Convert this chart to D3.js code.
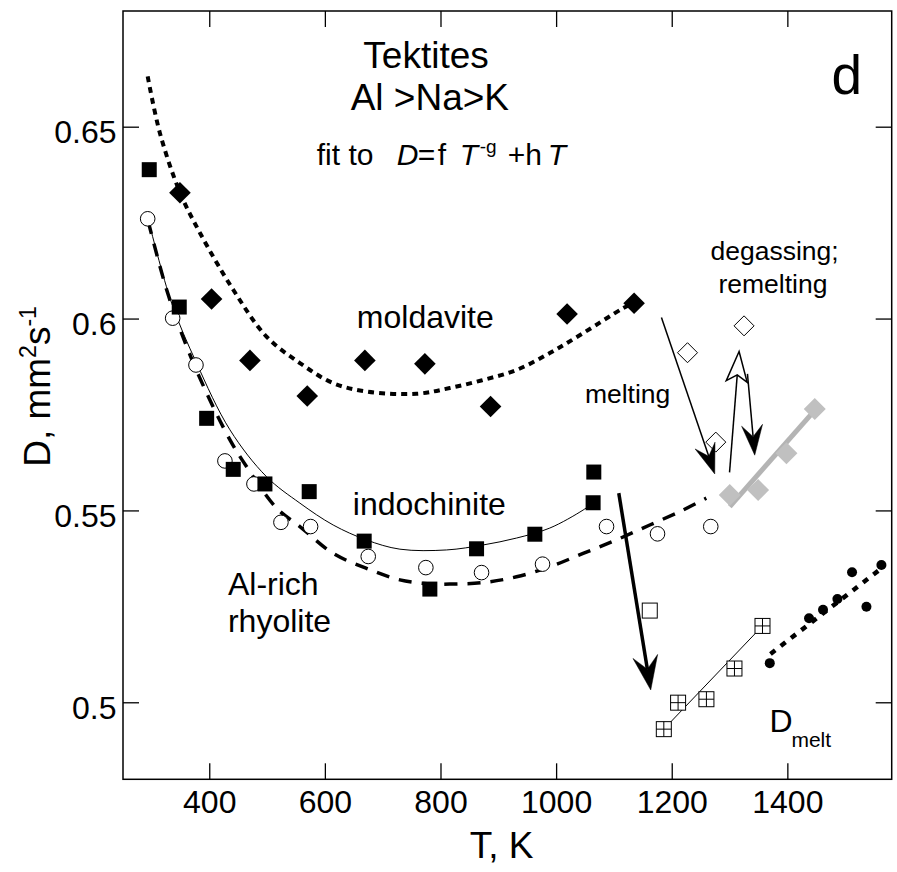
<!DOCTYPE html>
<html><head><meta charset="utf-8">
<script src="https://cdn.jsdelivr.net/npm/d3@7"></script>
<style>body{margin:0;background:#fff} text{font-family:"Liberation Sans",Arial,sans-serif;fill:#000}</style>
</head><body><svg id="c" width="897" height="872"></svg>
<script>
// ---- data ----
const xTicks = [400, 600, 800, 1000, 1200, 1400];
const yTicks = [0.5, 0.55, 0.6, 0.65];
const yTickLabels = ["0.5", "0.55", "0.6", "0.65"];

// moldavite (filled diamonds)
const moldT = [349.3, 404, 470.4, 569.5, 669.2, 773, 886.6, 1019, 1134.9];
const moldD = [0.6328, 0.6051, 0.5891, 0.5798, 0.5891, 0.5882, 0.5771, 0.6012, 0.6040];
// moldavite fit (dotted)
const moldFitT = [293.5, 314.7, 349, 384, 441.5, 499, 556.8, 614, 672, 758.6, 816, 873.8, 931.5, 989, 1046.7, 1116, 1135];
const moldFitD = [0.6631, 0.6483, 0.6330, 0.6223, 0.6075, 0.5953, 0.5884, 0.5832, 0.5810, 0.5804, 0.5819, 0.5840, 0.5866, 0.5910, 0.5962, 0.6027, 0.6041];

// indochinite (filled squares)
const indoT = [296.2, 348.1, 395.5, 441.5, 496.3, 572.9, 668, 781.6, 862.4, 963.2, 1064, 1065.2];
const indoD = [0.6388, 0.6030, 0.5740, 0.5607, 0.5569, 0.5549, 0.5420, 0.5295, 0.5400, 0.5438, 0.5520, 0.5600];
// indochinite fit (thin solid)
const indoFitT = [296, 335, 378, 435.8, 499, 556.8, 614.4, 672, 729.8, 810.5, 873.8, 931.5, 989, 1046.7, 1064];
const indoFitD = [0.6249, 0.6040, 0.5884, 0.5710, 0.5588, 0.5519, 0.5462, 0.5423, 0.5399, 0.5397, 0.5410, 0.5428, 0.5454, 0.5501, 0.5520];

// Al-rich rhyolite (open circles)
const rhyT = [293.5, 336.7, 377, 427.1, 477.3, 524, 575.3, 675, 774.7, 871, 976.5, 1087.2, 1175.4, 1267.5];
const rhyD = [0.6260, 0.6001, 0.5879, 0.5629, 0.5569, 0.5469, 0.5458, 0.5380, 0.5351, 0.5338, 0.5360, 0.5458, 0.5439, 0.5458];
// rhyolite fit (dashed)
const rhyFitT = [294.5, 326.3, 361, 395.5, 435.8, 464.7, 516.5, 556.8, 614.4, 672, 729.8, 787.3, 816, 873.8, 931.5, 989, 1046.7, 1104, 1162, 1219.6, 1259.8];
const rhyFitD = [0.6253, 0.6075, 0.5927, 0.5806, 0.5684, 0.5614, 0.5506, 0.5458, 0.5388, 0.5349, 0.5319, 0.5308, 0.5308, 0.5312, 0.5327, 0.5353, 0.5388, 0.5423, 0.5462, 0.5501, 0.5532];

// remelted (gray diamonds) and its line
const grayT = [1300.4, 1349.4, 1398.4, 1447.4];
const grayD = [0.5540, 0.5553, 0.5649, 0.5764];
const grayLineT = [1300.4, 1445];
const grayLineD = [0.5510, 0.5757];

// degassing (open diamonds)
const degT = [1227.3, 1325.1, 1276.2];
const degD = [0.5911, 0.5981, 0.5678];

// open square
const openSqT = [1162];
const openSqD = [0.5239];

// crossed squares + fit line
const crossT = [1186.3, 1211, 1260, 1308.5, 1357];
const crossD = [0.4930, 0.4999, 0.5008, 0.5088, 0.5199];
const crossFitT = [1186.3, 1357];
const crossFitD = [0.4930, 0.5199];

// melt (filled dots) + dotted fit
const meltT = [1369.6, 1437.5, 1461.7, 1486.6, 1511.9, 1536.8, 1562.7];
const meltD = [0.5102, 0.5219, 0.5241, 0.5269, 0.5339, 0.5249, 0.5358];
const meltFitT = [1370.8, 1562.7];
const meltFitD = [0.5126, 0.5349];

// arrows: start T, start D, end T, end D, head type
const arrowT1 = [1182.2, 1300, 1331, 1108.4];
const arrowD1 = [0.6003, 0.5599, 0.5856, 0.5545];
const arrowT2 = [1274.4, 1316.5, 1343.6, 1163.7];
const arrowD2 = [0.5595, 0.5914, 0.5644, 0.5032];
const arrowKind = ["filled", "hollow", "filled", "big"];

// ---- layout ----
const svg = d3.select("#c");
const L = 123, T = 11, R = 891.7, B = 779.3;
const x = d3.scaleLinear().domain([250.8, 1580.5]).range([L, R]);
const y = d3.scaleLinear().domain([0.47993, 0.68015]).range([B, T]);
const FONT = '"Liberation Sans", Arial, sans-serif';

const zip = (a, b) => a.map((v, i) => [v, b[i]]);
const line = d3.line().x(d => x(d[0])).y(d => y(d[1]));
const curve = d3.line().x(d => x(d[0])).y(d => y(d[1])).curve(d3.curveCatmullRom.alpha(0.5));

// axes
const tickLen = 16;
svg.append("g").attr("transform", `translate(0,${B})`)
  .call(d3.axisBottom(x).tickValues(xTicks).tickSizeInner(-tickLen).tickSizeOuter(0).tickPadding(11)
        .tickFormat(d3.format("d")))
  .call(g => { g.select(".domain").remove(); g.selectAll("line").attr("stroke-width", 1.3);
    g.selectAll("text").attr("font-size", 32).attr("font-family", FONT).attr("dy", "0.71em"); });
svg.append("g").attr("transform", `translate(0,${T})`)
  .call(d3.axisTop(x).tickValues(xTicks).tickSizeInner(-tickLen).tickSizeOuter(0).tickFormat(""))
  .call(g => { g.select(".domain").remove(); g.selectAll("line").attr("stroke-width", 1.3); });
svg.append("g").attr("transform", `translate(${L},0)`)
  .call(d3.axisLeft(y).tickValues(yTicks).tickSizeInner(-tickLen).tickSizeOuter(0).tickPadding(6.5)
        .tickFormat((d, i) => yTickLabels[i]))
  .call(g => { g.select(".domain").remove(); g.selectAll("line").attr("stroke-width", 1.3);
    g.selectAll("text").attr("font-size", 32).attr("font-family", FONT).attr("dy", "0.5em"); });
svg.append("g").attr("transform", `translate(${R},0)`)
  .call(d3.axisRight(y).tickValues(yTicks).tickSizeInner(-tickLen).tickSizeOuter(0).tickFormat(""))
  .call(g => { g.select(".domain").remove(); g.selectAll("line").attr("stroke-width", 1.3); });

svg.append("rect").attr("x", L).attr("y", T).attr("width", R - L).attr("height", B - T)
  .attr("fill", "none").attr("stroke", "#000").attr("stroke-width", 1.5);

// axis titles
svg.append("text").attr("x", 501.5).attr("y", 858).attr("text-anchor", "middle")
  .attr("font-size", 37).text("T, K");
const yl = svg.append("text").attr("transform", "translate(49.5,386.5) rotate(-90)")
  .attr("text-anchor", "middle").attr("font-size", 37);
yl.append("tspan").text("D, mm");
yl.append("tspan").attr("dy", -14).attr("font-size", 23).text("2");
yl.append("tspan").attr("dy", 14).text("s");
yl.append("tspan").attr("dy", -14).attr("font-size", 23).text("-1");

// fits
const plot = svg.append("g");
plot.append("path").attr("d", curve(zip(moldFitT, moldFitD))).attr("fill", "none")
  .attr("stroke", "#000").attr("stroke-width", 4).attr("stroke-dasharray", "6,5");
plot.append("path").attr("d", curve(zip(indoFitT, indoFitD))).attr("fill", "none")
  .attr("stroke", "#000").attr("stroke-width", 1);
plot.append("path").attr("d", curve(zip(rhyFitT, rhyFitD))).attr("fill", "none")
  .attr("stroke", "#000").attr("stroke-width", 3.5).attr("stroke-dasharray", "13,10");
plot.append("path").attr("d", line(zip(grayLineT, grayLineD))).attr("fill", "none")
  .attr("stroke", "#b4b4b4").attr("stroke-width", 5);
plot.append("path").attr("d", line(zip(crossFitT, crossFitD))).attr("fill", "none")
  .attr("stroke", "#000").attr("stroke-width", 1);
plot.append("path").attr("d", line(zip(meltFitT, meltFitD))).attr("fill", "none")
  .attr("stroke", "#000").attr("stroke-width", 4.5).attr("stroke-dasharray", "6,7");

// markers
const diamond = (s) => `M0,${-s}L${s},0L0,${s}L${-s},0Z`;
plot.selectAll(".mold").data(zip(moldT, moldD)).join("path")
  .attr("transform", d => `translate(${x(d[0])},${y(d[1])})`).attr("d", diamond(10.8)).attr("fill", "#000");
plot.selectAll(".deg").data(zip(degT, degD)).join("path")
  .attr("transform", d => `translate(${x(d[0])},${y(d[1])})`).attr("d", diamond(10)).attr("fill", "#fff")
  .attr("stroke", "#000").attr("stroke-width", 1);
plot.selectAll(".gray").data(zip(grayT, grayD)).join("path")
  .attr("transform", d => `translate(${x(d[0])},${y(d[1])})`).attr("d", diamond(11)).attr("fill", "#c0c0c0");
plot.selectAll(".rhy").data(zip(rhyT, rhyD)).join("circle")
  .attr("cx", d => x(d[0])).attr("cy", d => y(d[1])).attr("r", 7.3)
  .attr("fill", "#fff").attr("stroke", "#000").attr("stroke-width", 1);
plot.selectAll(".indo").data(zip(indoT, indoD)).join("rect")
  .attr("x", d => x(d[0]) - 7.5).attr("y", d => y(d[1]) - 7.5).attr("width", 15).attr("height", 15).attr("fill", "#000");
plot.selectAll(".osq").data(zip(openSqT, openSqD)).join("rect")
  .attr("x", d => x(d[0]) - 7.5).attr("y", d => y(d[1]) - 7.5).attr("width", 15).attr("height", 15)
  .attr("fill", "#fff").attr("stroke", "#000").attr("stroke-width", 1);
const cs = plot.selectAll(".cross").data(zip(crossT, crossD)).join("g")
  .attr("transform", d => `translate(${x(d[0])},${y(d[1])})`);
cs.append("rect").attr("x", -7.5).attr("y", -7.5).attr("width", 15).attr("height", 15)
  .attr("fill", "#fff").attr("stroke", "#000").attr("stroke-width", 1);
cs.append("path").attr("d", "M-7.5,0H7.5M0,-7.5V7.5").attr("stroke", "#000").attr("stroke-width", 1);
plot.selectAll(".melt").data(zip(meltT, meltD)).join("circle")
  .attr("cx", d => x(d[0])).attr("cy", d => y(d[1])).attr("r", 5).attr("fill", "#000");

// arrows
arrowKind.forEach((k, i) => {
  const x1 = x(arrowT1[i]), y1 = y(arrowD1[i]), x2 = x(arrowT2[i]), y2 = y(arrowD2[i]);
  const dx = x2 - x1, dy = y2 - y1, len = Math.hypot(dx, dy);
  const ux = dx / len, uy = dy / len, nx = -uy, ny = ux;
  const HL = k === "big" ? 34 : 30, HW = k === "big" ? 12.5 : 10.5, notch = k === "hollow" ? 0.78 : 0.62;
  const bx = x2 - HL * ux, by = y2 - HL * uy;
  const mx = x2 - notch * HL * ux, my = y2 - notch * HL * uy;
  plot.append("line").attr("x1", x1).attr("y1", y1).attr("x2", mx).attr("y2", my)
    .attr("stroke", "#000").attr("stroke-width", k === "big" ? 3.5 : 1.5);
  plot.append("path")
    .attr("d", `M${x2},${y2}L${bx + HW * nx},${by + HW * ny}L${mx},${my}L${bx - HW * nx},${by - HW * ny}Z`)
    .attr("fill", k === "hollow" ? "#fff" : "#000").attr("stroke", "#000").attr("stroke-width", k === "hollow" ? 1.5 : 0.5)
    .attr("stroke-linejoin", "miter");
});

// annotations (positioned in data coordinates)
const ann = (t, d, txt, size, anchor) => svg.append("text").attr("x", x(t)).attr("y", y(d))
  .attr("font-size", size).attr("text-anchor", anchor || "start").text(txt);
ann(775, 0.6654, "Tektites", 37, "middle");
ann(781.6, 0.6544, "Al >Na>K", 37, "middle");
ann(1476.5, 0.6584, "d", 55);
ann(655.3, 0.5976, "moldavite", 32);
ann(648.4, 0.5488, "indochinite", 32);
ann(432.3, 0.5280, "Al-rich", 32);
ann(432.3, 0.5183, "rhyolite", 32);
ann(1049.8, 0.5780, "melting", 26.5);
ann(1378, 0.6153, "degassing;", 26.5, "middle");
ann(1375, 0.6067, "remelting", 26.5, "middle");
ann(1369.3, 0.4923, "D", 32);
ann(1407, 0.4884, "melt", 21);

// fit formula
const fx = x(586), fy = y(0.6401);
const ft = svg.append("text").attr("y", fy).attr("font-size", 30);
ft.append("tspan").attr("x", fx).text("fit to");
ft.append("tspan").attr("x", fx + 80).attr("font-style", "italic").text("D");
ft.append("tspan").attr("x", fx + 101).text("=");
ft.append("tspan").attr("x", fx + 121).text("f");
ft.append("tspan").attr("x", fx + 143).attr("font-style", "italic").text("T");
ft.append("tspan").attr("x", fx + 163).attr("dy", -12).attr("font-size", 19).text("-g");
ft.append("tspan").attr("x", fx + 191).attr("dy", 12).text("+h");
ft.append("tspan").attr("x", fx + 231).attr("font-style", "italic").text("T");
</script></body></html>
